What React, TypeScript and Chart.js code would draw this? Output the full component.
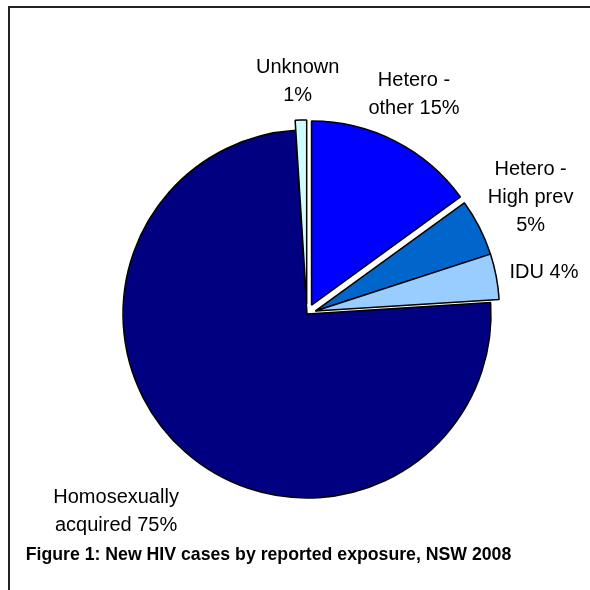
import React, { useEffect, useRef } from "react";
import { Chart, registerables } from "chart.js";

Chart.register(...registerables);

const categories = ["Hetero - other", "Hetero - High prev", "IDU", "Homosexually acquired", "Unknown"];
const values = [15, 5, 4, 75, 1];
const labelLines = [
  ["Hetero -", "other 15%"],
  ["Hetero -", "High prev", "5%"],
  ["IDU 4%"],
  ["Homosexually", "acquired 75%"],
  ["Unknown", "1%"],
];
const colors = ["#0000FF", "#0066CC", "#99CCFF", "#000080", "#CCFFFF"];
// explosion distance (px) and grouping (slices of one group move together)
const explodeDist = [10, 9, 9, 0, 10];
const explodeGroup = [0, 1, 1, 2, 3];
const labelDist = [1.329, 1.37, 1.308, 1.491, 1.267];
const labelNudgeDeg = [-1.06, -0.5, 0.75, 2.7, -0.5];
const titleText = "Figure 1: New HIV cases by reported exposure, NSW 2008";

const PIE_RADIUS = 184;
const FONT = '"Liberation Sans", Arial, sans-serif';

const explodePlugin = {
  id: "explode",
  afterDatasetsUpdate(chart: any) {
    const meta = chart.getDatasetMeta(0);
    const groups: Record<number, { s: number; e: number }> = {};
    meta.data.forEach((el: any, i: number) => {
      const g = explodeGroup[i];
      if (!groups[g]) groups[g] = { s: el.startAngle, e: el.endAngle };
      groups[g].s = Math.min(groups[g].s, el.startAngle);
      groups[g].e = Math.max(groups[g].e, el.endAngle);
    });
    meta.data.forEach((el: any, i: number) => {
      const g = groups[explodeGroup[i]];
      const mid = (g.s + g.e) / 2;
      el.baseX = el.x;
      el.baseY = el.y;
      el.x = el.x + Math.cos(mid) * explodeDist[i];
      el.y = el.y + Math.sin(mid) * explodeDist[i];
      el.outerRadius = PIE_RADIUS;
    });
  },
};

const labelsPlugin = {
  id: "sliceLabels",
  afterDraw(chart: any) {
    const ctx = chart.ctx;
    const meta = chart.getDatasetMeta(0);
    ctx.save();
    ctx.fillStyle = "#000";
    ctx.textAlign = "center";
    ctx.textBaseline = "middle";
    ctx.font = `20px ${FONT}`;
    const lh = 28;
    meta.data.forEach((el: any, i: number) => {
      const mid = (el.startAngle + el.endAngle) / 2 + (labelNudgeDeg[i] * Math.PI) / 180;
      const d = PIE_RADIUS * labelDist[i];
      const cx = el.baseX ?? el.x;
      const cy = el.baseY ?? el.y;
      const x = cx + Math.cos(mid) * d;
      const y = cy + Math.sin(mid) * d;
      const lines = labelLines[i];
      const y0 = y - ((lines.length - 1) * lh) / 2;
      lines.forEach((t, j) => ctx.fillText(t, x, y0 + j * lh));
    });
    ctx.font = `bold 17.7px ${FONT}`;
    ctx.fillText(titleText, 258.5, 547);
    ctx.restore();
  },
};

export default function App() {
  const ref = useRef<HTMLCanvasElement>(null);
  useEffect(() => {
    if (!ref.current) return;
    const chart = new Chart(ref.current, {
      type: "pie",
      data: {
        labels: categories,
        datasets: [
          {
            data: values,
            backgroundColor: colors,
            borderColor: "#000",
            borderWidth: 1.5,
            radius: PIE_RADIUS,
          } as any,
        ],
      },
      options: {
        animation: false,
        responsive: false,
        events: [],
        layout: { padding: { left: 14, right: 0, top: 32, bottom: 0 } },
        plugins: {
          legend: { display: false },
          tooltip: { enabled: false },
        },
      },
      plugins: [explodePlugin, labelsPlugin],
    });
    return () => chart.destroy();
  }, []);
  return (
    <div
      style={{
        position: "fixed",
        top: 6,
        left: 8,
        width: 600,
        height: 600,
        boxSizing: "border-box",
        borderTop: "2px solid #222",
        borderLeft: "2px solid #222",
        background: "#fff",
      }}
    >
      <canvas ref={ref} width={580} height={580} style={{ display: "block", width: 580, height: 580 }} />
    </div>
  );
}
